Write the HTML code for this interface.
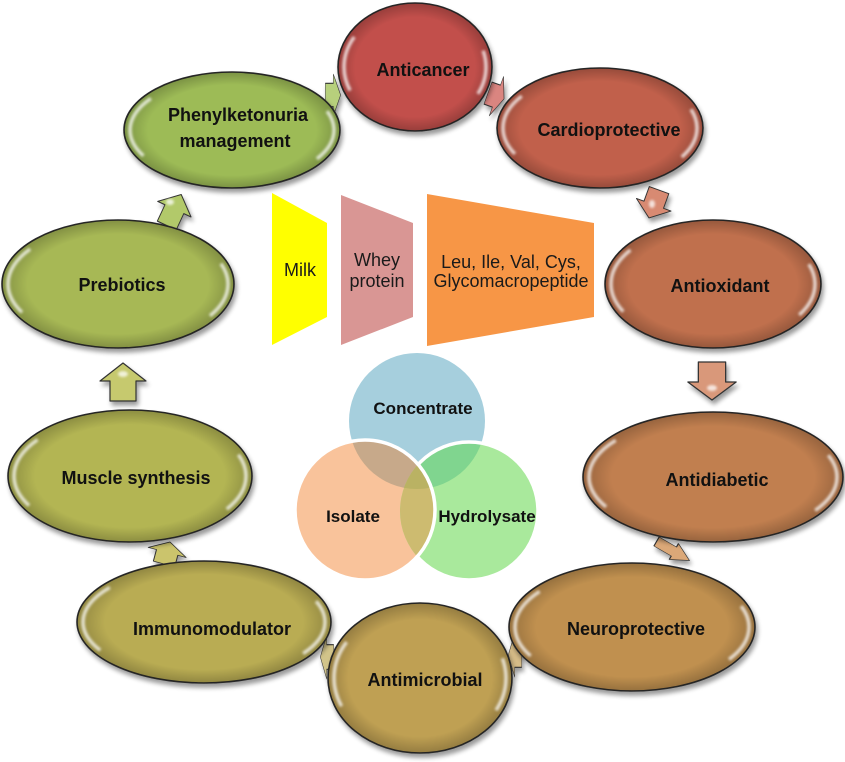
<!DOCTYPE html>
<html>
<head>
<meta charset="utf-8">
<style>
  html,body{margin:0;padding:0;background:#ffffff;}
  svg{display:block;}
  .lb{font-family:"Liberation Sans",Arial,sans-serif;font-weight:bold;font-size:18px;fill:#111;text-anchor:middle;}
  .vn{font-family:"Liberation Sans",Arial,sans-serif;font-weight:bold;font-size:17px;fill:#111;text-anchor:middle;}
  .tp{font-family:"Liberation Sans",Arial,sans-serif;font-size:18px;fill:#1a1a1a;text-anchor:middle;}
</style>
</head>
<body>
<svg width="845" height="762" viewBox="0 0 845 762" xmlns="http://www.w3.org/2000/svg">
  <defs>
    <filter id="sh" x="-20%" y="-20%" width="140%" height="150%">
      <feGaussianBlur in="SourceAlpha" stdDeviation="2.5"/>
      <feOffset dx="2" dy="4" result="o"/>
      <feComponentTransfer><feFuncA type="linear" slope="0.4"/></feComponentTransfer>
      <feMerge><feMergeNode/><feMergeNode in="SourceGraphic"/></feMerge>
    </filter>
    <filter id="bl" x="-20%" y="-20%" width="140%" height="140%">
      <feGaussianBlur stdDeviation="1.4"/>
    </filter>
    <radialGradient id="rim" cx="50%" cy="50%" r="50%">
      <stop offset="0.78" stop-color="#000" stop-opacity="0"/>
      <stop offset="1" stop-color="#000" stop-opacity="0.22"/>
    </radialGradient>
    <clipPath id="cC"><circle cx="417" cy="421" r="68"/></clipPath>
    <clipPath id="cI"><circle cx="365" cy="510" r="70"/></clipPath>
    <mask id="mI">
      <rect x="0" y="0" width="845" height="762" fill="#fff"/>
      <circle cx="365" cy="510" r="70" fill="#000"/>
    </mask>
    <polygon id="arw" points="0,-19 23,-1 13,-1 13,19 -13,19 -13,-1 -23,-1"/>
  </defs>

  <!-- trapezoids -->
  <polygon points="272,193 327,223 327,317 272,345" fill="#ffff00"/>
  <polygon points="341,195 413,223 413,317 341,345" fill="#d99694"/>
  <polygon points="427,194 594,223 594,317 427,346" fill="#f79646"/>
  <text class="tp" x="300" y="276">Milk</text>
  <text class="tp" x="377" y="266">Whey</text>
  <text class="tp" x="377" y="287">protein</text>
  <text class="tp" x="511" y="268">Leu, Ile, Val, Cys,</text>
  <text class="tp" x="511" y="287">Glycomacropeptide</text>

  <!-- Venn -->
  <circle cx="417" cy="421" r="68" fill="#a6cfdd"/>
  <circle cx="365" cy="510" r="70" fill="#f9c39b"/>
  <circle cx="469" cy="511" r="69" fill="#a9e99c"/>
  <g clip-path="url(#cC)"><circle cx="365" cy="510" r="70" fill="#c7a98a"/></g>
  <g clip-path="url(#cC)"><circle cx="469" cy="511" r="69" fill="#80d58f"/></g>
  <g clip-path="url(#cI)"><circle cx="469" cy="511" r="69" fill="#cdbb70"/></g>
  <g clip-path="url(#cC)"><g clip-path="url(#cI)"><circle cx="469" cy="511" r="69" fill="#bab263"/></g></g>
  <circle cx="469" cy="511" r="69" fill="none" stroke="#fff" stroke-width="3.5" mask="url(#mI)"/>
  <circle cx="365" cy="510" r="70" fill="none" stroke="#fff" stroke-width="3.5"/>
  <text class="vn" x="423" y="414">Concentrate</text>
  <text class="vn" x="353" y="522">Isolate</text>
  <text class="vn" x="487" y="522">Hydrolysate</text>

  <!-- arrows (behind ellipses) -->
  <g filter="url(#sh)" stroke="#333" stroke-width="1.2" stroke-linejoin="round">
    <use href="#arw" transform="translate(333,95) scale(0.4,0.9) rotate(90)" fill="#b7d07c" vector-effect="non-scaling-stroke"/>
    <use href="#arw" transform="translate(496,96) rotate(20) scale(0.45,0.9) rotate(90)" fill="#da8580"/>
    <use href="#arw" transform="translate(654,204) rotate(200) scale(0.8,0.78)" fill="#d88a72"/>
    <use href="#arw" transform="translate(712,381) rotate(180) scale(1.05,1)" fill="#d9987a"/>
    <use href="#arw" transform="translate(673,551) rotate(120) scale(0.4,1.0)" fill="#dba878"/>
    <use href="#arw" transform="translate(515,655) scale(0.35,0.95) rotate(-90)" fill="#d6bc88"/>
    <use href="#arw" transform="translate(327,657) scale(0.35,0.95) rotate(-90)" fill="#d2c48a"/>
    <use href="#arw" transform="translate(167,553) rotate(15) scale(0.85,0.6)" fill="#cbc46c"/>
    <use href="#arw" transform="translate(123,382)" fill="#c6c96e"/>
    <use href="#arw" transform="translate(174,210) rotate(25) scale(0.8,0.9)" fill="#b2c96a"/>
  </g>
  <g fill="#fff" opacity="0.75" filter="url(#bl)">
    <ellipse cx="123" cy="374" rx="5" ry="3"/>
    <ellipse cx="712" cy="388" rx="5" ry="3"/>
    <ellipse cx="170" cy="202" rx="4" ry="3"/>
    <ellipse cx="652" cy="204" rx="3" ry="4"/>
  </g>

  <!-- ellipses -->
  <!-- Anticancer -->
  <g>
    <ellipse cx="415" cy="67" rx="77" ry="64" fill="#c24f4b" stroke="#2b2b2b" stroke-width="1.6" filter="url(#sh)"/>
    <ellipse cx="415" cy="67" rx="77" ry="64" fill="url(#rim)"/>
    <ellipse cx="415" cy="67" rx="71" ry="58" fill="none" stroke="#fff" stroke-width="3.5" opacity="0.75" pathLength="100" stroke-dasharray="7 37 14 38 4 0" filter="url(#bl)"/>
  </g>
  <!-- Cardioprotective -->
  <g>
    <ellipse cx="600" cy="128" rx="103" ry="60" fill="#c1604c" stroke="#2b2b2b" stroke-width="1.6" filter="url(#sh)"/>
    <ellipse cx="600" cy="128" rx="103" ry="60" fill="url(#rim)"/>
    <ellipse cx="600" cy="128" rx="97" ry="54" fill="none" stroke="#fff" stroke-width="3.5" opacity="0.75" pathLength="100" stroke-dasharray="7 37 14 38 4 0" filter="url(#bl)"/>
  </g>
  <!-- Antioxidant -->
  <g>
    <ellipse cx="713" cy="284" rx="108" ry="64" fill="#c0704e" stroke="#2b2b2b" stroke-width="1.6" filter="url(#sh)"/>
    <ellipse cx="713" cy="284" rx="108" ry="64" fill="url(#rim)"/>
    <ellipse cx="713" cy="284" rx="102" ry="58" fill="none" stroke="#fff" stroke-width="3.5" opacity="0.75" pathLength="100" stroke-dasharray="7 37 14 38 4 0" filter="url(#bl)"/>
  </g>
  <!-- Antidiabetic -->
  <g>
    <ellipse cx="713" cy="477" rx="130" ry="65" fill="#c17f4f" stroke="#2b2b2b" stroke-width="1.6" filter="url(#sh)"/>
    <ellipse cx="713" cy="477" rx="130" ry="65" fill="url(#rim)"/>
    <ellipse cx="713" cy="477" rx="124" ry="59" fill="none" stroke="#fff" stroke-width="3.5" opacity="0.75" pathLength="100" stroke-dasharray="7 37 14 38 4 0" filter="url(#bl)"/>
  </g>
  <!-- Neuroprotective -->
  <g>
    <ellipse cx="632" cy="627" rx="123" ry="64" fill="#c0904f" stroke="#2b2b2b" stroke-width="1.6" filter="url(#sh)"/>
    <ellipse cx="632" cy="627" rx="123" ry="64" fill="url(#rim)"/>
    <ellipse cx="632" cy="627" rx="117" ry="58" fill="none" stroke="#fff" stroke-width="3.5" opacity="0.75" pathLength="100" stroke-dasharray="7 37 14 38 4 0" filter="url(#bl)"/>
  </g>
  <!-- Antimicrobial -->
  <g>
    <ellipse cx="420" cy="678" rx="92" ry="75" fill="#bfa052" stroke="#2b2b2b" stroke-width="1.6" filter="url(#sh)"/>
    <ellipse cx="420" cy="678" rx="92" ry="75" fill="url(#rim)"/>
    <ellipse cx="420" cy="678" rx="86" ry="69" fill="none" stroke="#fff" stroke-width="3.5" opacity="0.75" pathLength="100" stroke-dasharray="7 37 14 38 4 0" filter="url(#bl)"/>
  </g>
  <!-- Immunomodulator -->
  <g>
    <ellipse cx="204" cy="622" rx="127" ry="61" fill="#b9ac52" stroke="#2b2b2b" stroke-width="1.6" filter="url(#sh)"/>
    <ellipse cx="204" cy="622" rx="127" ry="61" fill="url(#rim)"/>
    <ellipse cx="204" cy="622" rx="121" ry="55" fill="none" stroke="#fff" stroke-width="3.5" opacity="0.75" pathLength="100" stroke-dasharray="7 37 14 38 4 0" filter="url(#bl)"/>
  </g>
  <!-- Muscle synthesis -->
  <g>
    <ellipse cx="130" cy="476" rx="122" ry="66" fill="#b3b553" stroke="#2b2b2b" stroke-width="1.6" filter="url(#sh)"/>
    <ellipse cx="130" cy="476" rx="122" ry="66" fill="url(#rim)"/>
    <ellipse cx="130" cy="476" rx="116" ry="60" fill="none" stroke="#fff" stroke-width="3.5" opacity="0.75" pathLength="100" stroke-dasharray="7 37 14 38 4 0" filter="url(#bl)"/>
  </g>
  <!-- Prebiotics -->
  <g>
    <ellipse cx="118" cy="284" rx="116" ry="64" fill="#a7b855" stroke="#2b2b2b" stroke-width="1.6" filter="url(#sh)"/>
    <ellipse cx="118" cy="284" rx="116" ry="64" fill="url(#rim)"/>
    <ellipse cx="118" cy="284" rx="110" ry="58" fill="none" stroke="#fff" stroke-width="3.5" opacity="0.75" pathLength="100" stroke-dasharray="7 37 14 38 4 0" filter="url(#bl)"/>
  </g>
  <!-- Phenylketonuria -->
  <g>
    <ellipse cx="232" cy="130" rx="108" ry="58" fill="#9dbb57" stroke="#2b2b2b" stroke-width="1.6" filter="url(#sh)"/>
    <ellipse cx="232" cy="130" rx="108" ry="58" fill="url(#rim)"/>
    <ellipse cx="232" cy="130" rx="102" ry="52" fill="none" stroke="#fff" stroke-width="3.5" opacity="0.75" pathLength="100" stroke-dasharray="7 37 14 38 4 0" filter="url(#bl)"/>
  </g>

  <!-- labels -->
  <text class="lb" x="423" y="76">Anticancer</text>
  <text class="lb" x="609" y="136">Cardioprotective</text>
  <text class="lb" x="720" y="292">Antioxidant</text>
  <text class="lb" x="717" y="486">Antidiabetic</text>
  <text class="lb" x="636" y="635">Neuroprotective</text>
  <text class="lb" x="425" y="686">Antimicrobial</text>
  <text class="lb" x="212" y="635">Immunomodulator</text>
  <text class="lb" x="136" y="484">Muscle synthesis</text>
  <text class="lb" x="122" y="291">Prebiotics</text>
  <text class="lb" x="238" y="121">Phenylketonuria</text>
  <text class="lb" x="235" y="147">management</text>
</svg>
</body>
</html>
